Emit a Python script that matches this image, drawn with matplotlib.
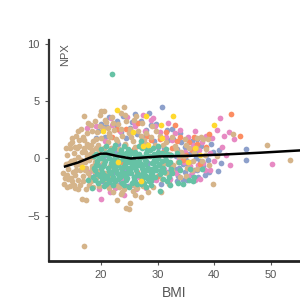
import numpy as np
import matplotlib
matplotlib.use("Agg")
import matplotlib.pyplot as plt

plt.rcParams['font.family'] = ['Liberation Sans', 'DejaVu Sans']

# --- data (BMI, NPX) per group ---
tan = np.array([
    (13.3, -1.3), (13.5, -2.2), (13.8, -0.5), (14.0, 0.3), (14.2, -1.8), (14.3, -0.9),
    (14.5, 0.9), (14.6, -2.4), (14.8, -0.2), (15.0, 1.4), (15.1, -1.2), (15.3, 0.5),
    (15.4, -2.6), (15.6, -0.6), (15.7, 2.0), (15.9, -1.9), (16.0, 0.1), (16.1, 1.1),
    (16.3, -1.0), (16.4, -2.3), (16.5, 2.6), (16.7, 0.6), (16.8, -0.3), (16.9, -1.5),
    (17.0, 3.7), (17.1, 1.6), (17.3, -2.7), (17.4, -0.8), (17.5, 0.2), (17.6, 2.2),
    (17.8, -1.3), (17.9, 1.0), (18.0, -0.1), (18.2, 2.9), (18.3, -2.0), (18.4, 0.7),
    (18.5, -0.7), (18.7, 1.5), (18.8, -1.1), (18.9, 3.3), (19.0, 0.4), (19.1, -1.7),
    (19.3, 2.3), (19.4, -0.4), (19.5, 1.2), (19.7, -2.4), (19.8, 3.8), (19.9, 0.0),
    (20.0, 1.8), (20.1, -0.9), (16.6, -3.5), (17.4, -3.6), (17.0, -7.6),
    (14.1, -1.4), (15.2, -0.1), (15.8, 0.9), (16.2, -0.5), (17.2, 0.6), (18.1, -1.6),
    (18.6, 0.1), (19.6, -1.1), (14.7, -1.7), (16.9, 1.9), (15.5, -1.4),
    (13.6, -1.7), (13.9, 0.9), (14.4, -0.4), (14.9, 1.8), (15.0, -2.0), (15.4, 1.0),
    (15.7, -1.0), (16.0, -2.7), (16.2, 1.6), (16.5, -0.1), (16.8, -2.0), (17.2, -1.0),
    (17.6, 1.3), (17.9, -2.3), (18.1, 0.4), (18.5, 2.4), (18.9, -0.3), (19.2, 1.7),
    (19.5, -1.4), (19.9, 2.8), (20.3, -0.4), (14.6, 1.3), (15.9, 2.4), (17.7, 3.1),
    (18.6, -2.5), (14.0, -2.5), (15.3, -2.3), (20.8, -1.3), (21.6, -0.7), (19.6, 0.7),
    (17.2, -0.3), (18.4, -0.9), (17.0, 0.9), (18.2, 1.2), (19.2, 0.9), (20.5, 0.9),
    (20.3, 2.7), (20.6, 4.1), (21.0, 3.2), (21.2, 1.4), (21.5, 2.2), (21.8, 0.9),
    (22.0, 3.6), (22.3, 2.5), (22.6, 1.7), (23.0, 3.0), (23.2, 0.8), (23.5, 4.0),
    (23.8, 2.0), (24.0, 4.5), (24.2, 1.3), (24.5, 3.3), (24.8, 0.6), (25.1, 2.6),
    (25.4, 1.9), (25.8, 3.4), (26.1, 1.0), (26.5, 2.4), (26.8, 0.3), (27.2, 3.1),
    (27.6, 1.6), (28.0, 2.2), (28.5, 0.7), (29.0, 2.8), (29.5, 1.2), (30.0, 0.1),
    (30.5, 2.0), (31.0, -0.5), (31.5, 1.4), (32.0, 0.4), (32.5, -1.0), (33.0, 1.1),
    (33.6, -0.3), (34.2, 0.6), (35.0, -1.5), (35.5, 0.9), (36.2, -0.2), (37.0, 1.8),
    (38.0, 1.7), (39.0, -0.6), (39.8, -2.2), (43.3, 2.1), (49.2, 1.2), (53.3, -0.17),
    (20.7, 3.4), (21.0, 0.5), (21.3, 2.7), (21.7, 1.9), (22.2, 3.1), (22.9, 1.5),
    (23.5, 2.6), (24.3, 3.8), (24.9, 2.2), (25.6, 1.5), (26.2, 3.7), (27.0, 2.0),
    (27.9, 1.3), (28.8, 1.9), (29.7, 2.4), (31.0, 1.2), (32.5, 1.9), (33.8, 0.2),
    (35.2, -0.8), (36.5, 0.5), (21.4, 2.0), (34.8, 1.7), (36.9, -0.9), (38.6, 0.8),
    (40.5, 0.2), (37.6, 1.9), (38.9, 1.7),
    (31.5, -1.3), (32.8, -0.6), (34.0, -1.6), (35.6, -0.3), (36.8, 0.9), (37.8, -0.2),
    (33.2, 0.8), (30.8, -1.8), (34.6, 0.2), (36.0, -1.0), (38.4, 0.3), (32.0, -2.2),
    (35.0, 1.2),
    (20.0, 4.15), (21.5, -2.6), (22.2, -2.9), (22.8, -3.6), (23.2, -2.5), (23.6, -3.1),
    (24.0, -2.7), (24.5, -4.3), (24.9, -4.4), (25.2, -3.9), (25.6, -2.8), (26.0, -3.2),
    (26.4, -2.6), (27.0, -3.4), (27.5, -2.4), (28.3, -2.9), (30.6, -2.9), (21.0, -2.2),
    (20.5, -1.8), (22.0, -1.6), (22.7, -2.3), (25.9, -2.3), (23.7, -2.9), (29.2, -2.5),
])

green = np.array([
    (21.9, 7.4),
    (22.5, 1.2), (27.0, 1.5), (30.0, 1.1),
    (20.0, 0.8), (21.2, 0.6), (22.4, 0.9), (23.6, 0.7), (24.8, 0.8),
    (26.0, 0.6), (27.3, 0.9), (28.6, 0.7), (30.0, 0.6), (31.5, 0.8), (33.5, 0.5),
    (19.2, 0.4), (20.7, 0.45), (22.0, 0.5), (23.2, 0.4), (24.4, 0.45), (25.6, 0.5),
    (26.8, 0.4), (28.0, 0.45), (29.4, 0.4), (30.8, 0.5), (32.4, 0.3),
    (18.8, 0.2), (20.1, 0.0), (21.3, 0.3), (22.5, 0.1), (23.7, 0.2),
    (24.9, 0.0), (26.1, 0.3), (27.4, 0.1), (28.7, 0.2), (30.0, 0.0), (31.3, 0.2),
    (19.4, -0.25), (20.8, -0.2), (22.0, -0.15), (23.2, -0.25), (24.4, -0.2),
    (25.6, -0.15), (26.8, -0.25), (28.0, -0.2), (29.4, -0.15), (30.8, -0.25), (32.2, -0.3),
    (19.4, -0.6), (20.6, -0.5), (21.8, -0.4), (23.0, -0.6),
    (24.2, -0.5), (25.4, -0.4), (26.6, -0.6), (27.8, -0.5), (29.0, -0.4), (30.3, -0.6),
    (31.8, -0.5),
    (18.8, -0.8), (20.0, -0.85), (21.2, -0.8), (22.4, -0.75), (23.6, -0.85), (24.8, -0.8),
    (26.0, -0.75), (27.2, -0.85), (28.4, -0.8), (29.6, -0.75), (31.0, -0.85), (32.4, -0.9),
    (19.0, -1.0), (20.2, -1.2), (21.4, -1.1), (22.6, -1.0), (23.8, -1.2),
    (25.0, -1.1), (26.2, -1.0), (27.4, -1.2), (28.6, -1.1), (29.8, -1.0), (31.2, -1.2),
    (32.6, -1.3), (34.0, -1.0), (36.5, -1.6),
    (19.4, -1.35), (20.6, -1.4), (21.8, -1.3), (23.0, -1.35), (24.2, -1.4), (25.4, -1.3),
    (26.6, -1.35), (27.8, -1.4), (29.0, -1.3), (30.4, -1.35),
    (18.6, -1.6), (19.8, -1.5), (21.0, -1.7), (22.2, -1.6), (23.4, -1.5), (24.6, -1.7),
    (25.8, -1.6), (27.0, -1.5), (28.2, -1.7), (29.6, -1.6), (31.0, -1.8),
    (35.5, -1.9),
    (20.2, -1.85), (21.6, -1.9), (23.0, -1.8), (24.4, -1.85), (25.8, -1.9), (27.2, -1.8),
    (28.8, -1.85),
    (19.5, -2.1), (21.0, -2.2), (22.5, -2.0), (24.0, -2.3), (25.5, -2.1), (27.0, -2.2),
    (28.5, -2.0), (30.5, -2.8), (18.5, -2.6), (34.5, -2.2),
    (19.7, 0.05), (20.4, -0.65), (21.1, -1.55), (21.7, 0.75), (22.3, -0.95),
    (22.9, 0.25), (23.4, -1.65), (23.9, -0.05), (24.5, -1.25), (25.1, 0.65), (25.7, -0.55),
    (26.3, -1.45), (26.9, 0.15), (27.5, -0.95), (28.1, 0.85), (28.7, -1.55), (29.3, -0.35),
    (29.9, 0.35), (30.6, -1.05), (31.4, -0.15), (32.1, -1.65), (33.7, -0.35),
    (35.8, -0.9), (21.5, -2.05), (23.8, -2.1), (26.4, -2.2),
    (28.9, -2.35), (20.9, 1.05), (24.1, 1.1), (26.7, 1.05), (29.2, 0.9), (22.8, -1.25),
    (25.3, -0.85), (27.7, -0.1), (30.2, -0.45), (19.1, -0.55), (20.3, 0.3), (21.9, -0.6),
    (23.5, 0.55), (24.7, -0.35), (26.2, -0.3), (27.9, -1.0), (29.1, -0.95), (31.7, 0.35),
    (18.9, -1.9), (22.1, -2.35), (24.9, -2.45), (27.6, -2.1), (31.6, -2.0),
    (37.8, -0.9), (36.2, -2.0), (17.8, -1.9),
    (20.5, -2.4), (28.0, -2.45), (32.2, -2.3), (33.6, -2.1),
    (22.6, -0.3), (25.0, 0.3), (27.1, -0.45), (29.7, -0.1), (24.3, -1.55), (21.4, 0.05),
    (23.9, -0.75),
])

purple = np.array([
    (19.0, -1.3), (19.5, 2.4), (20.2, -2.0), (20.8, 1.9), (21.5, 3.6), (22.0, -1.8),
    (22.7, 2.9), (23.3, -2.2), (23.9, 3.7), (24.4, 1.8), (25.0, -1.3), (25.5, 3.2),
    (26.0, -2.0), (26.4, 2.1), (27.0, 3.3), (27.5, -1.0), (28.0, 2.5), (28.5, 4.0),
    (29.0, -1.9), (29.4, 1.5), (29.8, 3.0), (30.3, -1.4), (30.8, 4.5), (31.2, 0.9),
    (31.6, 2.5), (32.0, -2.0), (32.4, -0.8), (32.8, 1.7), (33.2, 0.2), (33.6, -1.5),
    (34.0, 2.2), (34.4, -0.5), (34.8, 1.0), (35.2, -1.9), (35.6, 0.4), (36.0, 1.5),
    (36.4, -1.0), (36.8, 0.0), (37.2, -1.6), (37.6, 1.1), (38.0, -0.7), (38.5, 0.3),
    (39.0, -1.2), (39.5, 1.3), (40.6, -1.1), (41.2, -0.4), (45.6, 0.82), (45.6, -0.1),
    (22.5, 0.6), (24.0, -0.9), (26.5, 0.2), (28.3, -0.4), (30.0, 1.0), (31.8, -1.2),
    (33.5, 0.8), (35.4, -0.6), (37.0, 0.6), (25.8, -1.6), (23.0, 1.3), (20.5, 0.2),
    (19.8, -0.6), (21.0, 2.8), (22.2, -1.2), (23.6, 2.3), (24.8, -2.4), (26.1, 3.9),
    (27.4, 1.9), (28.9, 2.9), (30.6, -2.2), (31.9, 1.6), (33.0, -0.9), (34.2, 1.4),
    (35.9, -1.4), (36.9, 1.7), (38.3, -1.4), (39.8, 0.6), (40.9, 0.7), (29.6, -0.8),
    (32.6, 2.6), (34.9, -1.2), (37.4, -0.2), (38.8, -0.1), (25.2, 2.7), (22.9, 3.3),
    (19.2, 1.8), (20.1, 3.0), (32.2, 0.3), (33.8, -0.8), (35.0, -0.1), (36.2, 0.6),
    (37.0, -1.0), (33.4, -2.0), (31.0, -0.3), (34.4, -1.9),
])

pink = np.array([
    (17.5, 2.7), (18.8, -1.7), (19.2, 2.8), (20.0, -3.5), (20.7, 1.5), (21.2, -2.3),
    (21.8, 3.5), (22.5, -2.6), (23.3, 2.4), (24.0, -3.2), (24.6, 3.6), (25.3, -2.3),
    (26.0, 2.8), (26.7, -1.6), (27.4, 3.8), (28.0, -2.6), (28.8, 3.4), (29.2, 3.5),
    (29.8, -1.9), (30.5, 2.3), (31.2, -0.9), (31.8, 3.1), (32.6, 1.6), (33.3, -1.3),
    (34.0, 2.5), (34.6, -0.3), (35.3, 1.9), (36.0, -1.2), (36.6, 2.4), (37.3, 0.7),
    (38.0, -0.4), (38.6, 2.0), (39.3, 0.5), (40.0, -0.2), (40.5, 2.45), (41.0, 3.57),
    (41.4, 1.0), (41.7, 2.0), (42.0, 0.3), (42.5, 2.3), (42.7, -0.6), (43.5, 1.7),
    (50.2, -0.47), (39.2, -1.0), (37.5, -1.8),
    (18.0, -1.2), (20.4, 2.6), (22.0, 2.9), (23.8, -1.9), (25.8, 3.2), (27.8, 2.4),
    (29.6, 2.8), (31.4, 1.9), (33.0, 2.2), (34.9, 0.6), (36.2, 1.2), (37.9, 1.4),
    (39.6, 1.8), (32.2, -1.8), (35.8, -0.7), (38.4, -1.0), (19.7, -2.7), (21.6, -2.9),
    (26.2, -2.7), (33.8, 0.0), (35.4, -1.5), (37.2, -0.6), (36.6, -1.9),
])

orange = np.array([
    (22.0, 1.9), (23.5, -0.3), (24.5, 2.6), (25.8, 0.8), (27.0, 1.3), (28.2, 2.0),
    (29.5, 0.3), (30.5, 1.7), (31.5, 2.3), (32.5, 0.9), (33.5, 1.5), (34.5, -0.1),
    (35.5, 1.4), (36.5, 1.9), (37.5, -0.5), (38.5, 1.0), (42.9, 3.9), (44.5, 2.0),
    (33.0, 2.9), (26.5, 3.1), (24.2, 1.2), (28.8, 1.6), (31.0, 0.6), (34.0, 1.9),
    (36.0, 0.7), (37.0, 1.3), (39.0, 2.1), (26.3, -1.2), (30.0, -1.5), (22.8, 2.6),
    (32.2, -0.5), (35.0, 0.3),
])

yellow = np.array([
    (22.8, 4.2), (32.7, 3.7), (40.0, 2.9), (30.6, 2.9), (28.0, 3.7), (16.6, -0.75),
    (27.0, -2.0), (35.4, -0.35), (36.6, 0.95), (28.3, 1.2), (27.5, 1.1), (20.4, 2.4),
    (25.6, 2.3), (30.8, 1.8), (37.4, 0.3), (23.1, -0.35),
])

# smoothed trend
trend_bmi = [13.7, 16.0, 18.0, 20.0, 21.0, 23.0, 25.3, 28.0, 30.4, 35.0, 41.8, 48.0, 55.0]
trend_npx = [-0.7, -0.35, 0.05, 0.42, 0.42, 0.2, 0.0, 0.1, 0.18, 0.22, 0.35, 0.5, 0.7]

groups = [
    (purple, '#8da0cb'),
    (pink, '#e78ac3'),
    (orange, '#fc8d62'),
    (tan, '#d5b48a'),
    (green, '#66c2a5'),
    (yellow, '#ffd92f'),
]

fig = plt.figure(figsize=(3, 3), dpi=100)
ax = fig.add_axes([0.163, 0.13, 0.837, 0.737])

for pts, col in groups:
    ax.scatter(pts[:, 0], pts[:, 1], s=17, color=col, linewidths=0, zorder=2)

ax.plot(trend_bmi, trend_npx, color='black', lw=1.8, zorder=3)

ax.set_xlim(10.85, 55.1)
ax.set_ylim(-8.95, 10.35)
ax.set_xticks([20, 30, 40, 50])
ax.set_yticks([-5, 0, 5, 10])

for side in ['top', 'right']:
    ax.spines[side].set_visible(False)
ax.spines['left'].set_linewidth(1.6)
ax.spines['bottom'].set_linewidth(2.0)
ax.spines['left'].set_color('#333333')
ax.spines['bottom'].set_color('#222222')
ax.tick_params(axis='both', labelsize=8, colors='#555555', length=3, width=0.8)

ax.set_xlabel('BMI', fontsize=10, color='#555555', labelpad=4)
ax.text(0.045, 0.985, 'NPX', transform=ax.transAxes, rotation=90,
        ha='left', va='top', fontsize=8, color='#555555')

fig.savefig('out.png', dpi=100)
